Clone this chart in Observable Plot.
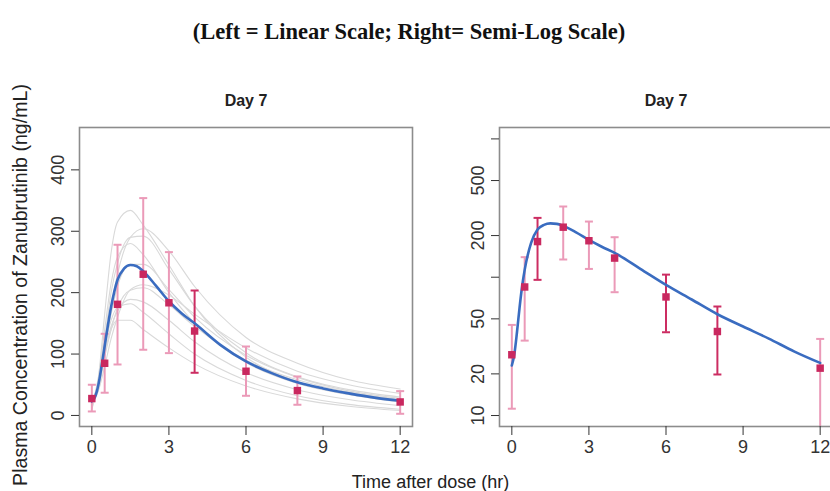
<!DOCTYPE html>
<html><head><meta charset="utf-8">
<script src="https://cdn.jsdelivr.net/npm/d3@7"></script>
<script src="https://cdn.jsdelivr.net/npm/@observablehq/plot@0.6"></script>
<style>
html,body{margin:0;padding:0;background:#fff;overflow:hidden;}
#wrap{position:relative;width:830px;height:491px;overflow:hidden;font-family:"Liberation Sans",Arial,sans-serif;color:#222;}
#title{position:absolute;left:0;width:818px;top:19px;line-height:1;text-align:center;font:bold 22.5px "Liberation Serif","Times New Roman",serif;color:#111;white-space:nowrap;}
#xlab{position:absolute;left:180px;width:501px;top:473px;line-height:1;text-align:center;font-size:18px;color:#222;white-space:nowrap;}
#ylab{position:absolute;left:-230px;top:275px;width:500px;height:20px;line-height:20px;text-align:center;font-size:19.6px;color:#222;transform:rotate(-90deg);white-space:nowrap;}
#left,#right{position:absolute;top:0;width:420px;height:491px;}
#left{left:0;} #right{left:420px;}
#left svg,#right svg{max-width:none !important;}
</style>
</head><body>
<div id="wrap">
  <div id="title">(Left = Linear Scale; Right= Semi-Log Scale)</div>
  <div id="left"></div>
  <div id="right"></div>
  <div id="ylab">Plasma Concentration of Zanubrutinib (ng/mL)</div>
  <div id="xlab">Time after dose (hr)</div>
</div>
<script>
// ---- data ----
const panelTitle = "Day 7";
const xTicks = [0, 3, 6, 9, 12];
const yTicksLinear = [0, 100, 200, 300, 400];
const yTicksLog = [10, 20, 50, 100, 200, 500, 1000];
const yLabelsLog = [10, 20, 50, 200, 500];

const times = [0, 0.5, 1, 2, 3, 4, 6, 8, 12];
const meanConc = [27.5, 85, 181, 230, 183.5, 137.5, 72, 40.5, 22];
const linLow  = [6.5, 37, 83, 107, 101.5, 69.5, 32, 17.4, 2.7];
const linHigh = [50, 133, 278, 354, 266, 203.5, 112.3, 63.5, 39.6];
const logLow  = [11.2, 34.8, 95.7, 134.3, 114.8, 77.9, 40, 19.8, 2.7];
const logHigh = [45.2, 139.6, 268.5, 324.5, 252.6, 194.6, 104.4, 61.4, 35.8];

const predTime = [0, 0.1, 0.2, 0.3, 0.4, 0.5, 0.75, 1, 1.25, 1.5, 1.75, 2, 2.5, 3, 3.5, 4, 5, 6, 7, 8, 9, 10, 11, 12];
const predConc = [23, 28, 40, 60, 86, 113, 177, 221, 239, 245, 243, 235, 211, 186, 166, 150, 115, 88, 69, 54, 44, 36, 29, 24];

const indivTime = [0, 0.25, 0.5, 0.75, 1, 1.5, 2, 3, 4, 6, 8, 10, 12];
const indiv01 = [15, 60, 165, 265, 315, 334, 310, 245, 178, 95, 55, 34, 22];
const indiv02 = [25, 50, 110, 175, 230, 290, 304, 268, 210, 127, 85, 58, 43];
const indiv03 = [20, 55, 125, 200, 248, 290, 292, 238, 178, 102, 63, 42, 30];
const indiv04 = [18, 60, 140, 215, 258, 280, 262, 200, 150, 86, 52, 34, 24];
const indiv05 = [25, 40, 80, 125, 160, 205, 213, 196, 165, 110, 72, 50, 36];
const indiv06 = [20, 40, 95, 140, 175, 204, 208, 180, 145, 90, 58, 38, 26];
const indiv07 = [15, 45, 100, 145, 170, 189, 185, 155, 120, 70, 42, 26, 16];
const indiv08 = [12, 50, 112, 155, 176, 182, 168, 133, 100, 57, 32, 18, 10];
const indiv09 = [10, 50, 100, 140, 155, 155, 140, 110, 84, 48, 27, 15, 8];
const indiv10 = [22, 50, 108, 165, 210, 246, 246, 205, 160, 98, 62, 40, 28];
const indivAll = [indiv01, indiv02, indiv03, indiv04, indiv05, indiv06, indiv07, indiv08, indiv09, indiv10];

// style: which bars look darker in the reference
const darkBarsLinear = [4];
const darkBarsLog = [1, 6, 8];

// ---- styles ----
const COL_LIGHT = "#eb9ab8";
const COL_DARK = "#cc2d62";
const COL_MARK = "#c9285f";
const COL_PRED = "#3a6cc0";
const COL_INDIV = "#d9d9d9";

const capSymbol = {
  draw(ctx, size) {
    const w = Math.sqrt(size / Math.PI);
    ctx.moveTo(-w, 0);
    ctx.lineTo(w, 0);
  }
};

function panel(isLog) {
  const lo = isLog ? logLow : linLow;
  const hi = isLog ? logHigh : linHigh;
  const dark = isLog ? darkBarsLog : darkBarsLinear;
  const pts = times.map((t, i) => ({t, m: meanConc[i], lo: lo[i], hi: hi[i], col: dark.includes(t) ? COL_DARK : COL_LIGHT}));
  const pred = predTime.map((t, i) => ({t, c: predConc[i]}));
  const marks = [];
  if (!isLog) {
    indivAll.forEach(arr => marks.push(
      Plot.line(indivTime.map((t, i) => ({t, c: arr[i]})), {x: "t", y: "c", stroke: COL_INDIV, strokeWidth: 1.1, curve: "monotone-x"})
    ));
  }
  marks.push(Plot.ruleX(pts, {x: "t", y1: "lo", y2: "hi", stroke: "col", strokeWidth: 2, clip: true}));
  marks.push(Plot.dot(pts, {x: "t", y: "lo", symbol: capSymbol, r: 4, fill: "none", stroke: "col", strokeWidth: 2, clip: true}));
  marks.push(Plot.dot(pts, {x: "t", y: "hi", symbol: capSymbol, r: 4, fill: "none", stroke: "col", strokeWidth: 2, clip: true}));
  marks.push(Plot.line(pred, {x: "t", y: "c", stroke: COL_PRED, strokeWidth: 2.6, curve: "monotone-x", clip: true}));
  marks.push(Plot.dot(pts, {x: "t", y: "m", symbol: "square", r: 4.2, fill: COL_MARK, stroke: "none"}));
  marks.push(Plot.frame({stroke: "#8c8c8c", strokeWidth: 1.6}));
  marks.push(Plot.axisX({ticks: xTicks, tickSize: 9, tickPadding: 5, fontSize: 18, stroke: "#333", fill: "#333", label: null}));
  marks.push(Plot.axisY({
    ticks: isLog ? yTicksLog : yTicksLinear,
    tickFormat: isLog ? (d => yLabelsLog.includes(d) ? String(d) : "") : (d => String(d)),
    tickSize: 8, tickPadding: 8, tickRotate: -90, fontSize: 18, stroke: "#333", fill: "#333", label: null
  }));
  marks.push(Plot.text([panelTitle], {frameAnchor: "top", dy: -27, lineAnchor: "middle", fontWeight: "bold", fontSize: 16, fill: "#222"}));
  return Plot.plot({
    width: 420, height: 491,
    marginLeft: 79, marginRight: 8, marginTop: 127, marginBottom: 65,
    x: {domain: [-0.48, 12.48]},
    y: isLog ? {type: "log", domain: [8.33, 1209]} : {domain: [-18, 469]},
    color: {type: "identity"},
    style: {fontFamily: "'Liberation Sans', Arial, sans-serif", fontSize: "18px", color: "#333", background: "transparent", overflow: "visible", maxWidth: "none"},
    marks
  });
}

document.getElementById("left").appendChild(panel(false));
document.getElementById("right").appendChild(panel(true));
</script>
</body></html>
